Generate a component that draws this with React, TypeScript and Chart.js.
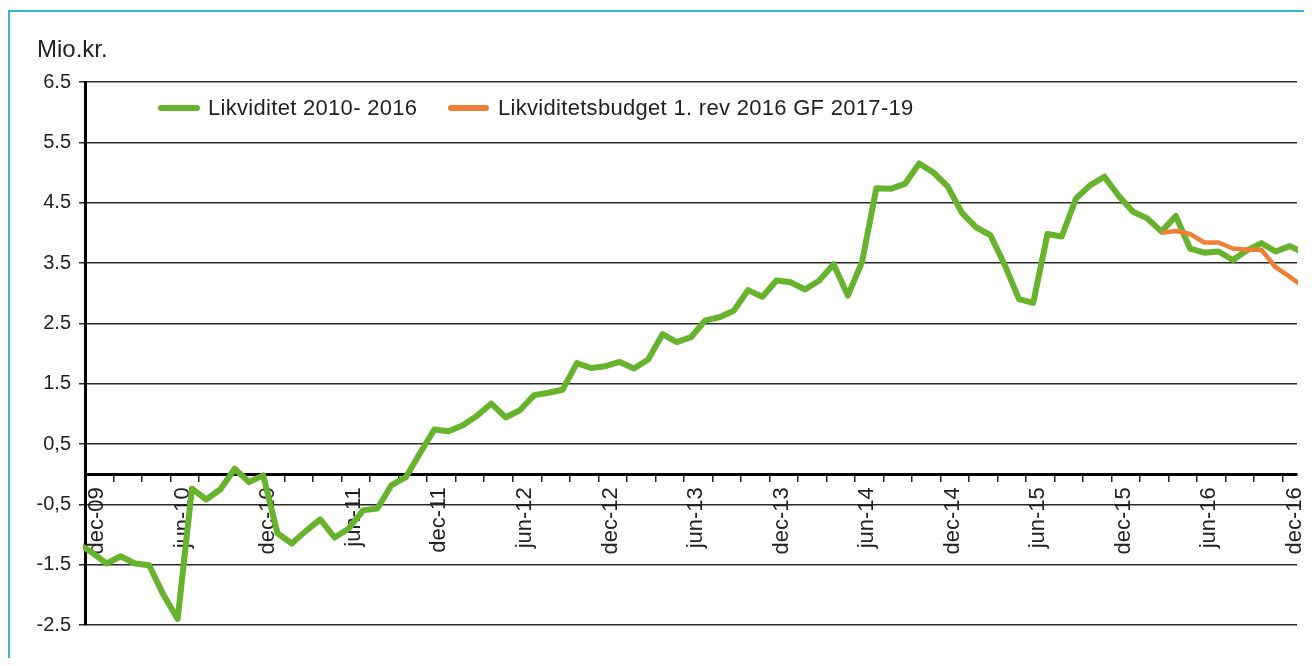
import React, { useEffect, useRef } from 'react';
import { Chart, registerables } from 'chart.js';

Chart.register(...registerables);

const FONT = "'Liberation Sans', Arial, Helvetica, sans-serif";
const GREEN = '#67b32e';
const ORANGE = '#ee7f36';
const TEXT = '#222222';

// Category labels (months, Danish abbreviations); the axis shows dec-09 .. dec-16,
// with one month on each side so the lines run to the plot edges.
const MONTHS = ['jan', 'feb', 'mar', 'apr', 'maj', 'jun', 'jul', 'aug', 'sep', 'okt', 'nov', 'dec'];
const YEARS = ['10', '11', '12', '13', '14', '15', '16'];
const monthLabels: string[] = [
  'nov-09',
  'dec-09',
  ...YEARS.flatMap((y) => MONTHS.map((m) => `${m}-${y}`)),
  'jan-17',
];
const AXIS_FIRST = 'dec-09';
const AXIS_LAST = 'dec-16';
const SHOWN_MONTHS = ['dec', 'jun'];

// Likviditet 2010- 2016 (Mio.kr.), nov-09 .. jan-17
const liquidityNov09Dec09 = [-1.15, -1.3];
const liquidity2010 = [-1.48, -1.36, -1.48, -1.51, -2.0, -2.4, -0.24, -0.42, -0.25, 0.09, -0.13, -0.02];
const liquidity2011 = [-0.98, -1.15, -0.94, -0.75, -1.05, -0.9, -0.6, -0.57, -0.18, -0.05, 0.35, 0.74];
const liquidity2012 = [0.71, 0.81, 0.97, 1.17, 0.94, 1.06, 1.31, 1.35, 1.4, 1.84, 1.76, 1.79];
const liquidity2013 = [1.86, 1.75, 1.9, 2.32, 2.19, 2.27, 2.55, 2.6, 2.71, 3.05, 2.94, 3.21];
const liquidity2014 = [3.18, 3.06, 3.21, 3.48, 2.96, 3.52, 4.74, 4.73, 4.81, 5.15, 5.0, 4.77];
const liquidity2015 = [4.33, 4.09, 3.96, 3.47, 2.9, 2.84, 3.98, 3.94, 4.57, 4.79, 4.93, 4.61];
const liquidity2016 = [4.35, 4.24, 4.02, 4.28, 3.74, 3.67, 3.69, 3.55, 3.71, 3.83, 3.69, 3.78];
const liquidityJan17 = [3.66];
const liquidity = [
  ...liquidityNov09Dec09,
  ...liquidity2010,
  ...liquidity2011,
  ...liquidity2012,
  ...liquidity2013,
  ...liquidity2014,
  ...liquidity2015,
  ...liquidity2016,
  ...liquidityJan17,
];

// Likviditetsbudget 1. rev 2016 GF 2017-19
const budgetMonths = ['mar-16', 'apr-16', 'maj-16', 'jun-16', 'jul-16', 'aug-16', 'sep-16', 'okt-16', 'nov-16', 'dec-16', 'jan-17'];
const budgetValues = [4.0, 4.03, 3.98, 3.84, 3.84, 3.74, 3.72, 3.72, 3.43, 3.27, 3.1];

// Y axis
const Y_MIN = -2.5;
const Y_MAX = 6.5;
const yTickValues = [-2.5, -1.5, -0.5, 0.5, 1.5, 2.5, 3.5, 4.5, 5.5, 6.5];
const yTickLabels = ['-2.5', '-1.5', '-0,5', '0,5', '1.5', '2.5', '3.5', '4.5', '5.5', '6.5'];

const TITLE = 'Mio.kr.';
const SERIES_NAMES = ['Likviditet 2010- 2016', 'Likviditetsbudget 1. rev 2016 GF 2017-19'];

export default function App() {
  const ref = useRef<HTMLCanvasElement>(null);

  useEffect(() => {
    const canvas = ref.current;
    if (!canvas) return;
    const lineClip = { left: 2, right: 1, top: 10, bottom: 10 };
    const chart = new Chart(canvas, {
      type: 'line',
      data: {
        labels: monthLabels,
        datasets: [
          {
            label: SERIES_NAMES[0],
            data: liquidity,
            borderColor: GREEN,
            backgroundColor: GREEN,
            borderWidth: 6,
            pointRadius: 0,
            tension: 0,
            borderJoinStyle: 'round',
            clip: lineClip,
            order: 1,
          },
          {
            label: SERIES_NAMES[1],
            data: budgetMonths.map((m, i) => ({ x: m, y: budgetValues[i] })),
            borderColor: ORANGE,
            backgroundColor: ORANGE,
            borderWidth: 4.5,
            pointRadius: 0,
            tension: 0,
            borderJoinStyle: 'round',
            clip: lineClip,
            order: 0,
          },
        ],
      },
      options: {
        animation: false,
        responsive: false,
        events: [],
        layout: { padding: { left: 0, top: 74, right: 7, bottom: 33 } },
        plugins: {
          legend: { display: false },
          tooltip: { enabled: false },
          title: { display: false },
        },
        scales: {
          x: {
            type: 'category',
            offset: true,
            position: { y: 0 } as any,
            afterDataLimits: (scale: any) => {
              scale.min = monthLabels.indexOf(AXIS_FIRST);
              scale.max = monthLabels.indexOf(AXIS_LAST);
            },
            afterFit: (scale: any) => {
              scale.paddingLeft = 0;
              scale.paddingRight = 0;
              scale.paddingTop = 0;
              scale.paddingBottom = 0;
            },
            border: { display: true, color: '#000000', width: 3 },
            grid: {
              offset: true,
              drawOnChartArea: false,
              drawTicks: true,
              tickLength: 6,
              lineWidth: 1.5,
              color: (ctx: any) => (ctx.index > 0 && ctx.index % 2 === 0 ? '#222222' : 'rgba(0,0,0,0)'),
            },
            ticks: {
              autoSkip: false,
              minRotation: 90,
              maxRotation: 90,
              padding: 7,
              labelOffset: 5,
              color: TEXT,
              font: { family: FONT, size: 22 },
              callback: function (this: any, value: any) {
                const l: string = this.getLabelForValue(value);
                return SHOWN_MONTHS.some((m) => l.startsWith(m)) ? l : '';
              },
            },
          },
          y: {
            type: 'linear',
            min: Y_MIN,
            max: Y_MAX,
            afterFit: (scale: any) => {
              scale.width = 77;
            },
            border: { display: true, color: '#000000', width: 3 },
            grid: {
              color: '#2a2a2a',
              lineWidth: 1.5,
              drawTicks: true,
              tickLength: 6,
            },
            ticks: {
              stepSize: 1,
              padding: 8,
              color: TEXT,
              font: { family: FONT, size: 20 },
              callback: (value: any) => {
                const idx = yTickValues.findIndex((v) => Math.abs(v - Number(value)) < 1e-6);
                return idx >= 0 ? yTickLabels[idx] : '';
              },
            },
          },
        },
      },
    });
    return () => chart.destroy();
  }, []);

  const legendText: React.CSSProperties = {
    fontSize: 22,
    letterSpacing: '0.3px',
    color: TEXT,
    lineHeight: '26px',
    whiteSpace: 'nowrap',
  };

  return (
    <div style={{ position: 'relative', width: 1296, height: 650, fontFamily: FONT }}>
      <div
        style={{
          position: 'absolute',
          left: 0,
          top: 2,
          right: 0,
          bottom: 0,
          borderTop: '2px solid #3cb4d4',
          borderLeft: '2px solid #3cb4d4',
        }}
      />
      <canvas ref={ref} width={1296} height={650} style={{ position: 'absolute', left: 0, top: 0 }} />
      <div style={{ position: 'absolute', left: 29, top: 27, fontSize: 24, lineHeight: '28px', color: TEXT }}>{TITLE}</div>
      <div style={{ position: 'absolute', left: 150, top: 87, height: 26, display: 'flex', alignItems: 'center' }}>
        <span style={{ display: 'inline-block', width: 42, height: 6, borderRadius: 3, background: GREEN, marginRight: 8 }} />
        <span style={legendText}>{SERIES_NAMES[0]}</span>
      </div>
      <div style={{ position: 'absolute', left: 440, top: 87, height: 26, display: 'flex', alignItems: 'center' }}>
        <span style={{ display: 'inline-block', width: 41, height: 6, borderRadius: 3, background: ORANGE, marginRight: 9 }} />
        <span style={legendText}>{SERIES_NAMES[1]}</span>
      </div>
    </div>
  );
}
